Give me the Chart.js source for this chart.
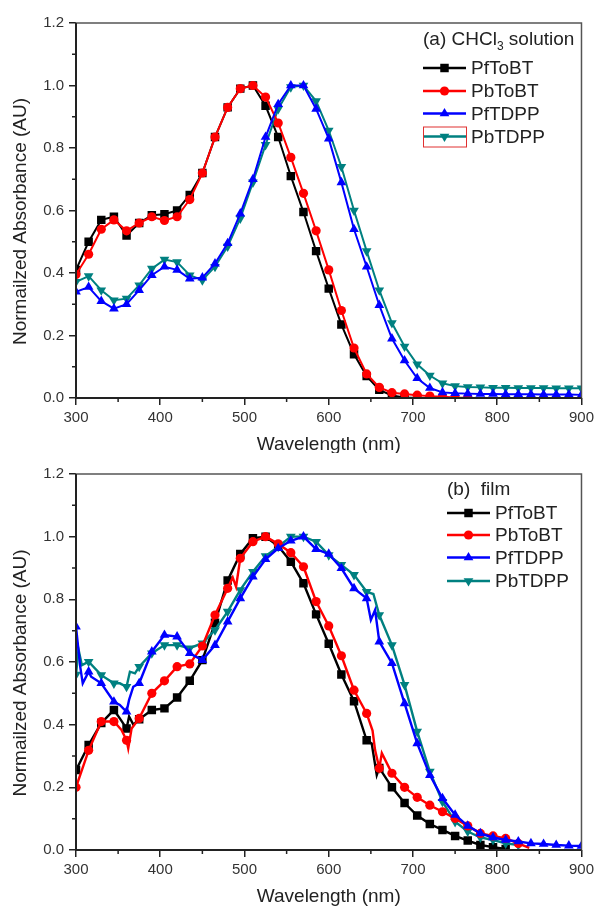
<!DOCTYPE html>
<html>
<head>
<meta charset="utf-8">
<title>Normalized absorbance</title>
<script src="https://cdn.jsdelivr.net/npm/chart.js@4.4.1/dist/chart.umd.min.js"></script>
<style>
  body { margin: 0; background: #fff; }
  canvas { display: block; }
</style>
</head>
<body>
<canvas id="solChart" width="598" height="453"></canvas>
<canvas id="filmChart" width="598" height="453"></canvas>
<script>
// 시리즈 이름 / 색 / 마커
const names = ['PfToBT', 'PbToBT', 'PfTDPP', 'PbTDPP'];
const colors = ['#000000', '#ff0000', '#0000ff', '#008080'];
const markers = ['rect', 'circle', 'triangle', 'triangle'];
const markerRot = [0, 0, 0, 180];
const markerSize = [6, 4.6, 5.6, 5.6];
const drawOrder = [3, 1, 0, 2];

// 축 눈금
const xTicks = [300, 400, 500, 600, 700, 800, 900];
const yTicks = [0, 0.2, 0.4, 0.6, 0.8, 1.0, 1.2];

// (a) CHCl3 solution
const solNm = [300, 315, 330, 345, 360, 375, 390, 405, 420, 435, 450, 465, 480, 495, 510, 525, 540, 555, 570, 585,
  600, 615, 630, 645, 660, 675, 690, 705, 720, 735, 750, 765, 780, 795, 810, 825, 840, 855, 870, 885, 900];
const solPfToBT = [0.41, 0.50, 0.57, 0.58, 0.52, 0.56, 0.585, 0.588, 0.60, 0.65, 0.72, 0.835, 0.93, 0.99, 1.0, 0.935, 0.835, 0.71, 0.595, 0.47,
  0.35, 0.235, 0.14, 0.07, 0.026, 0.008, 0.002, 0.0];
const solPbToBT = [0.395, 0.46, 0.54, 0.57, 0.535, 0.56, 0.58, 0.568, 0.58, 0.635, 0.72, 0.835, 0.93, 0.99, 1.0, 0.963, 0.88, 0.77, 0.655, 0.535,
  0.41, 0.28, 0.16, 0.077, 0.034, 0.017, 0.013, 0.009, 0.006, 0.004, 0.002, 0.001];
const solPfTDPP = [0.34, 0.355, 0.31, 0.286, 0.30, 0.345, 0.393, 0.42, 0.41, 0.382, 0.385, 0.43, 0.495, 0.59, 0.70, 0.835, 0.94, 1.0, 1.0, 0.925,
  0.83, 0.69, 0.54, 0.42, 0.297, 0.19, 0.12, 0.063, 0.032, 0.018, 0.015, 0.014, 0.013, 0.013, 0.012, 0.012, 0.012, 0.011, 0.011, 0.011, 0.01];
const solPbTDPP = [0.372, 0.39, 0.345, 0.313, 0.318, 0.361, 0.414, 0.443, 0.435, 0.393, 0.377, 0.42, 0.485, 0.575, 0.69, 0.81, 0.925, 0.995, 1.0, 0.95,
  0.856, 0.74, 0.6, 0.47, 0.345, 0.24, 0.165, 0.108, 0.072, 0.047, 0.038, 0.035, 0.034, 0.033, 0.033, 0.032, 0.032, 0.032, 0.031, 0.031, 0.031];

// (b) film  (마커는 15 nm 간격 점에만)
const filmPfToBTNm = [300, 315, 330, 345, 352, 360, 363, 368, 375, 390, 405, 420, 435, 450, 465, 480, 486, 495, 510, 525, 540, 555, 570, 585,
  600, 615, 630, 645, 651, 657, 660, 675, 690, 705, 720, 735, 750, 765, 780, 795, 810];
const filmPfToBT = [0.255, 0.335, 0.405, 0.447, 0.42, 0.388, 0.426, 0.40, 0.417, 0.447, 0.452, 0.487, 0.54, 0.606, 0.725, 0.86, 0.894, 0.945, 0.995, 1.0, 0.97, 0.92, 0.851, 0.752,
  0.658, 0.56, 0.475, 0.35, 0.34, 0.239, 0.262, 0.2, 0.15, 0.11, 0.083, 0.064, 0.045, 0.03, 0.016, 0.009, 0.003];
const filmPbToBTNm = [300, 315, 330, 345, 354, 360, 362, 366, 375, 390, 405, 420, 435, 450, 465, 480, 486, 490, 495, 510, 525, 540, 555, 570, 585,
  600, 615, 630, 645, 652, 655, 660, 663, 675, 690, 705, 720, 735, 750, 765, 780, 795, 810, 825, 838];
const filmPbToBT = [0.20, 0.318, 0.41, 0.41, 0.383, 0.35, 0.324, 0.388, 0.42, 0.50, 0.54, 0.585, 0.594, 0.651, 0.75, 0.835, 0.87, 0.84, 0.931, 0.984, 1.0, 0.977, 0.949, 0.904, 0.793,
  0.715, 0.62, 0.51, 0.436, 0.381, 0.319, 0.261, 0.309, 0.245, 0.2, 0.168, 0.143, 0.122, 0.101, 0.077, 0.053, 0.045, 0.037, 0.021, 0.007];
const filmPfTDPPNm = [300, 305, 308, 315, 318, 330, 345, 352, 360, 363, 368, 375, 390, 405, 420, 435, 450, 465, 480, 495, 510, 525, 540, 555, 570, 585,
  600, 615, 630, 645, 650, 655, 660, 675, 690, 705, 720, 735, 750, 765, 780, 795, 810, 825, 840, 855, 870, 885, 900];
const filmPfTDPP = [0.713, 0.585, 0.532, 0.569, 0.553, 0.532, 0.473, 0.463, 0.441, 0.479, 0.521, 0.532, 0.633, 0.686, 0.681, 0.628, 0.606, 0.654, 0.729, 0.803, 0.872, 0.928, 0.963, 0.987, 1.0, 0.96,
  0.945, 0.899, 0.835, 0.803, 0.734, 0.766, 0.665, 0.596, 0.468, 0.34, 0.239, 0.165, 0.112, 0.077, 0.053, 0.04, 0.032, 0.027, 0.021, 0.019, 0.016, 0.014, 0.013];
const filmPbTDPPNm = [300, 303, 307, 315, 330, 345, 352, 360, 364, 370, 375, 390, 405, 420, 435, 450, 465, 480, 495, 510, 525, 540, 555, 570, 585,
  600, 615, 630, 645, 653, 660, 675, 690, 705, 720, 735, 750, 765, 780, 795, 810, 825];
const filmPbTDPP = [0.56, 0.64, 0.59, 0.601, 0.558, 0.532, 0.532, 0.521, 0.569, 0.564, 0.585, 0.628, 0.654, 0.654, 0.644, 0.66, 0.702, 0.761, 0.83, 0.888, 0.938, 0.968, 1.0, 1.0, 0.984,
  0.941, 0.91, 0.878, 0.824, 0.817, 0.75, 0.654, 0.527, 0.378, 0.25, 0.154, 0.09, 0.059, 0.04, 0.032, 0.021, 0.016];

const FONT = '"Liberation Sans", Arial, sans-serif';

// 마커 그리기 (범례용)
function drawMarker(ctx, i, x, y) {
  const r = markerSize[i];
  ctx.fillStyle = colors[i];
  ctx.beginPath();
  if (markers[i] === 'rect') {
    const s = r * Math.SQRT1_2;
    ctx.rect(x - s, y - s, 2 * s, 2 * s);
  } else if (markers[i] === 'circle') {
    ctx.arc(x, y, r, 0, Math.PI * 2);
  } else {
    let a = markerRot[i] * Math.PI / 180;
    ctx.moveTo(x + Math.sin(a) * r, y - Math.cos(a) * r);
    a += Math.PI * 2 / 3;
    ctx.lineTo(x + Math.sin(a) * r, y - Math.cos(a) * r);
    a += Math.PI * 2 / 3;
    ctx.lineTo(x + Math.sin(a) * r, y - Math.cos(a) * r);
    ctx.closePath();
  }
  ctx.fill();
}

// 테두리, 보조 눈금, 축 제목, 범례
function panelPlugin(cfg) {
  return {
    id: 'panel',
    afterDraw(chart) {
      const ctx = chart.ctx;
      const a = chart.chartArea;
      const xs = chart.scales.x, ys = chart.scales.y;
      ctx.save();

      // frame
      ctx.strokeStyle = '#555';
      ctx.lineWidth = 1.5;
      ctx.strokeRect(a.left, a.top, a.right - a.left, a.bottom - a.top);
      ctx.strokeStyle = '#222';
      ctx.lineWidth = 2;
      ctx.beginPath();
      ctx.moveTo(a.left, a.top);
      ctx.lineTo(a.left, a.bottom);
      ctx.lineTo(a.right, a.bottom);
      ctx.stroke();

      // minor ticks
      ctx.lineWidth = 1.5;
      ctx.beginPath();
      for (let k = 0; k < xTicks.length - 1; k++) {
        const px = xs.getPixelForValue((xTicks[k] + xTicks[k + 1]) / 2);
        ctx.moveTo(px, a.bottom);
        ctx.lineTo(px, a.bottom + 4);
      }
      for (let k = 0; k < yTicks.length - 1; k++) {
        const py = ys.getPixelForValue((yTicks[k] + yTicks[k + 1]) / 2);
        ctx.moveTo(a.left, py);
        ctx.lineTo(a.left - 4, py);
      }
      ctx.stroke();

      // axis titles
      ctx.fillStyle = '#222';
      ctx.font = '19px ' + FONT;
      ctx.textAlign = 'center';
      ctx.textBaseline = 'middle';
      ctx.fillText('Wavelength (nm)', (a.left + a.right) / 2, a.bottom + 47);
      ctx.save();
      ctx.translate(21, (a.top + a.bottom) / 2 + 11);
      ctx.rotate(-Math.PI / 2);
      ctx.fillText('Normailzed Absorbance (AU)', 0, 0);
      ctx.restore();

      // legend title
      ctx.textAlign = 'left';
      let tx = cfg.lx;
      cfg.title.forEach(part => {
        ctx.font = (part.sub ? '12px ' : '19px ') + FONT;
        ctx.fillText(part.text, tx, cfg.ty + (part.sub ? 7 : 0));
        tx += ctx.measureText(part.text).width;
      });

      // legend rows
      ctx.font = '19px ' + FONT;
      chart.data.datasets.forEach((ds, i) => {
        const y = cfg.rows[i];
        ctx.strokeStyle = colors[i];
        ctx.lineWidth = 2.5;
        ctx.beginPath();
        ctx.moveTo(cfg.lx, y);
        ctx.lineTo(cfg.lx + 43, y);
        ctx.stroke();
        drawMarker(ctx, i, cfg.lx + 21.5, y);
        ctx.fillStyle = '#222';
        ctx.fillText(ds.label, cfg.lx + 48, y + 1);
      });

      if (cfg.box) {
        ctx.strokeStyle = '#e03030';
        ctx.lineWidth = 1;
        ctx.strokeRect(cfg.lx + 0.5, cfg.rows[3] - 9.5, 43, 20);
      }
      ctx.restore();
    }
  };
}

function makeChart(id, series, everyPoint, top, bottom, lineW, cfg) {
  const canvas = document.getElementById(id);
  const H = canvas.height;
  const datasets = series.map((s, i) => ({
    label: names[i],
    data: s.y.map((v, k) => ({ x: s.x[k], y: v })),
    borderColor: colors[i],
    backgroundColor: colors[i],
    borderWidth: lineW,
    tension: 0,
    order: drawOrder[i],
    pointStyle: markers[i],
    rotation: markerRot[i],
    pointBorderWidth: 0,
    pointRadius: everyPoint ? markerSize[i]
      : (c => (c.raw && (c.raw.x - 300) % 15 === 0) ? markerSize[i] : 0)
  }));

  return new Chart(canvas, {
    type: 'line',
    data: { datasets: datasets },
    options: {
      responsive: false,
      animation: false,
      events: [],
      layout: { padding: { top: top, right: 15, left: 0, bottom: 0 } },
      plugins: { legend: { display: false }, tooltip: { enabled: false } },
      scales: {
        x: {
          type: 'linear',
          min: 300, max: 900,
          afterBuildTicks: s => { s.ticks = xTicks.map(v => ({ value: v })); },
          afterFit: s => { s.height = H - bottom; },
          ticks: { color: '#333', font: { family: FONT, size: 15 }, padding: 4, maxRotation: 0 },
          grid: { drawOnChartArea: false, tickLength: 7, color: '#222', lineWidth: 1.5 },
          border: { display: false }
        },
        y: {
          min: 0, max: 1.2,
          afterBuildTicks: s => { s.ticks = yTicks.map(v => ({ value: v })); },
          afterFit: s => { s.width = 76; },
          ticks: { color: '#333', font: { family: FONT, size: 15 }, padding: 5,
            callback: v => Number(v).toFixed(1) },
          grid: { drawOnChartArea: false, tickLength: 7, color: '#222', lineWidth: 1.5 },
          border: { display: false }
        }
      }
    },
    plugins: [panelPlugin(cfg)]
  });
}

const chartSol = makeChart('solChart', [
  { x: solNm, y: solPfToBT },
  { x: solNm, y: solPbToBT },
  { x: solNm, y: solPfTDPP },
  { x: solNm, y: solPbTDPP }
], true, 23, 398, 2, {
  lx: 423, ty: 40, rows: [68, 91, 113.5, 136.5], box: true,
  title: [{ text: '(a) CHCl' }, { text: '3', sub: true }, { text: ' solution' }]
});

const chartFilm = makeChart('filmChart', [
  { x: filmPfToBTNm, y: filmPfToBT },
  { x: filmPbToBTNm, y: filmPbToBT },
  { x: filmPfTDPPNm, y: filmPfTDPP },
  { x: filmPbTDPPNm, y: filmPbTDPP }
], false, 21, 397, 2.4, {
  lx: 447, ty: 37, rows: [60, 82, 104.5, 128], box: false,
  title: [{ text: '(b)  film' }]
});
</script>
</body>
</html>
